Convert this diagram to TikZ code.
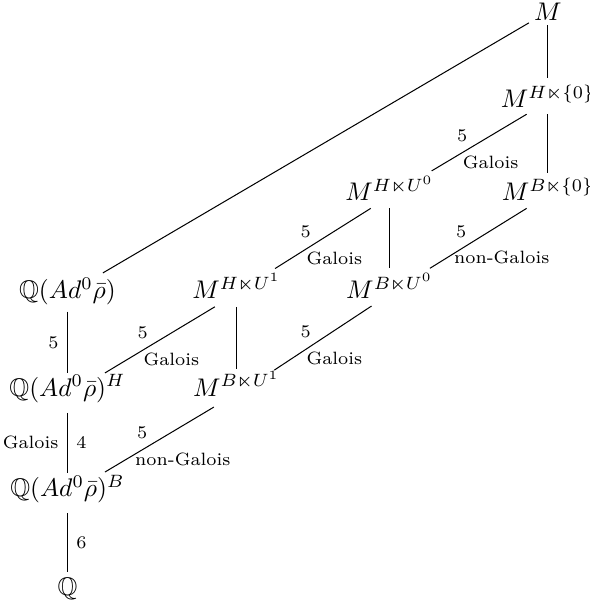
\documentclass[tikz,border=0pt]{standalone}
\usepackage{amsmath,amssymb}
\usetikzlibrary{positioning}

\begin{document}
\begin{tikzpicture}[
    fld/.style={inner sep=2.5pt, anchor=base},
    deg/.style={font=\scriptsize, midway, xshift=-6.7pt, yshift=2.6pt},
    gal/.style={font=\scriptsize, midway, xshift=4.5pt, yshift=-7.8pt},
    ngal/.style={font=\scriptsize, midway, xshift=9.2pt, yshift=-7.6pt},
    lab/.style={font=\scriptsize, midway}
  ]
    \useasboundingbox (0,0) rectangle (8.13,8.38);

    % fields
    \node[fld] (m) at (7.55,8.10) {$M$};
    \node[fld] (mh0) at (7.55,6.90) {$M^{H\ltimes\{0\}}$};
    \node[fld] (mhu0) at (5.37,5.61) {$M^{H\ltimes U^0}$};
    \node[fld] (mb0) at (7.55,5.61) {$M^{B\ltimes\{0\}}$};
    \node[fld] (qa) at (0.93,4.26) {$\mathbb{Q}(Ad^0\bar{\rho})$};
    \node[fld] (mhu1) at (3.26,4.26) {$M^{H\ltimes U^1}$};
    \node[fld] (mbu0) at (5.37,4.26) {$M^{B\ltimes U^0}$};
    \node[fld] (qah) at (0.93,2.92) {$\mathbb{Q}(Ad^0\bar{\rho})^H$};
    \node[fld] (mbu1) at (3.26,2.92) {$M^{B\ltimes U^1}$};
    \node[fld] (qab) at (0.93,1.54) {$\mathbb{Q}(Ad^0\bar{\rho})^B$};
    \node[fld] (q) at (0.93,0.17) {$\mathbb{Q}$};

    % vertical inclusions
    \draw ([yshift=-1.9pt]m.base) -- ([yshift=11.4pt]mh0.base);
    \draw ([yshift=-2.7pt]mh0.base) -- ([yshift=11.1pt]mb0.base);
    \draw ([yshift=-2.9pt]mhu0.base) -- ([yshift=12pt]mbu0.base);
    \draw ([yshift=-3.1pt]mhu1.base) -- ([yshift=10.5pt]mbu1.base);
    \draw ([yshift=-5pt]qa.base) -- node[lab, left] {5} ([yshift=8.9pt]qah.base);
    \draw ([yshift=-6.6pt]qah.base) -- node[lab, left] {Galois} node[lab, right] {4} ([yshift=9.2pt]qab.base);
    \draw ([yshift=-6.6pt]qab.base) -- node[lab, right] {6} ([yshift=9.4pt]q.base);

    % diagonal inclusions
    \draw ([xshift=-7.4pt, yshift=-1pt]m.base) -- ([xshift=13.9pt, yshift=10.2pt]qa.base);
    \draw ([xshift=-8.3pt, yshift=-2.7pt]mh0.base) -- node[deg] {5} node[gal] {Galois} ([xshift=16.5pt, yshift=11.8pt]mhu0.base);
    \draw ([xshift=-8.3pt, yshift=-2.9pt]mb0.base) -- node[deg] {5} node[ngal] {non-Galois} ([xshift=15.8pt, yshift=12pt]mbu0.base);
    \draw ([xshift=-7.4pt, yshift=-2.9pt]mhu0.base) -- node[deg] {5} node[gal] {Galois} ([xshift=15.1pt, yshift=11.9pt]mhu1.base);
    \draw ([xshift=-7.1pt, yshift=-2.8pt]mbu0.base) -- node[deg] {5} node[gal] {Galois} ([xshift=14.8pt, yshift=10.2pt]mbu1.base);
    \draw ([xshift=-8.5pt, yshift=-3.1pt]mhu1.base) -- node[deg] {5} node[gal] {Galois} ([xshift=14.7pt, yshift=9.1pt]qah.base);
    \draw ([xshift=-8.9pt, yshift=-4.3pt]mbu1.base) -- node[deg] {5} node[ngal] {non-Galois} ([xshift=14.7pt, yshift=9.5pt]qab.base);
  \end{tikzpicture}
\end{document}
